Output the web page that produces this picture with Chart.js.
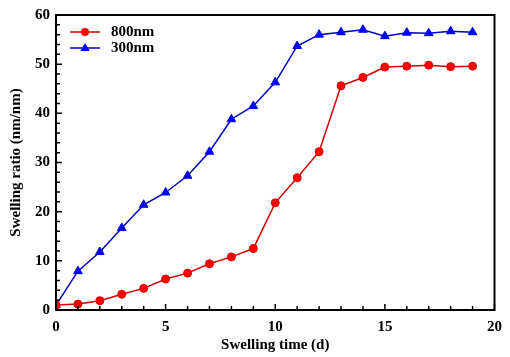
<!DOCTYPE html>
<html>
<head>
<meta charset="utf-8">
<script src="https://cdn.jsdelivr.net/npm/chart.js@4.4.1/dist/chart.umd.min.js"></script>
<style>
  html, body { margin: 0; padding: 0; background: #fff; }
  #wrap { width: 510px; height: 357px; }
</style>
</head>
<body>
<div id="wrap"><canvas id="swellChart" width="510" height="357"></canvas></div>
<script>
// swelling time (d)
var days = [0, 1, 2, 3, 4, 5, 6, 7, 8, 9, 10, 11, 12, 13, 14, 15, 16, 17, 18, 19];
// swelling ratio (nm/nm)
var ratio800 = [1.0, 1.2, 1.9, 3.2, 4.4, 6.3, 7.5, 9.4, 10.8, 12.5, 21.8, 26.9, 32.2, 45.6, 47.3, 49.4, 49.6, 49.8, 49.5, 49.6];
var ratio300 = [1.0, 7.9, 11.8, 16.7, 21.4, 23.9, 27.3, 32.2, 38.8, 41.5, 46.3, 53.7, 56.0, 56.5, 57.0, 55.7, 56.4, 56.3, 56.7, 56.5];
var seriesNames = ['800nm', '300nm'];

var FONT = '"Liberation Serif", "Times New Roman", serif';

function toPoints(xs, ys){
    var pts = [];
    for (var i = 0; i < xs.length; i++) pts.push({x: xs[i], y: ys[i]});
    return pts;
}

// frame + inward ticks + legend
var framePlugin = {
    id: 'frame',
    afterDraw: function(chart){
        var ctx = chart.ctx;
        var a = chart.chartArea;
        var xs = chart.scales.x, ys = chart.scales.y;
        ctx.save();
        ctx.strokeStyle = '#000';
        ctx.lineWidth = 2;
        ctx.strokeRect(a.left, a.top, a.right - a.left, a.bottom - a.top);

        ctx.lineWidth = 1.5;
        ctx.beginPath();
        for (var v = 0; v <= 20; v++) {
            var px = xs.getPixelForValue(v);
            var len = (v % 5 === 0) ? 6 : 4;
            ctx.moveTo(px, a.bottom);
            ctx.lineTo(px, a.bottom - len);
        }
        for (var w = 0; w <= 60; w += 2) {
            var py = ys.getPixelForValue(w);
            var len2 = (w % 10 === 0) ? 6 : 4;
            ctx.moveTo(a.left, py);
            ctx.lineTo(a.left + len2, py);
        }
        ctx.stroke();

        // legend
        var ds = chart.data.datasets;
        ctx.font = 'bold 15px ' + FONT;
        ctx.textBaseline = 'middle';
        for (var i = 0; i < ds.length; i++) {
            var ly = a.top + 17 + i * 16;
            var x0 = a.left + 14, x1 = a.left + 44;
            ctx.strokeStyle = ds[i].borderColor;
            ctx.lineWidth = 1.5;
            ctx.beginPath();
            ctx.moveTo(x0, ly);
            ctx.lineTo(x1, ly);
            ctx.stroke();
            ctx.fillStyle = ds[i].pointBackgroundColor;
            ctx.beginPath();
            if (ds[i].pointStyle === 'triangle') {
                var r = 5;
                var cx = (x0 + x1) / 2;
                ctx.moveTo(cx, ly - r);
                ctx.lineTo(cx + r * 0.95, ly + r * 0.6);
                ctx.lineTo(cx - r * 0.95, ly + r * 0.6);
                ctx.closePath();
            } else {
                ctx.arc((x0 + x1) / 2, ly, 4, 0, Math.PI * 2);
            }
            ctx.fill();
            ctx.fillStyle = '#000';
            ctx.textAlign = 'left';
            ctx.fillText(ds[i].label, x1 + 11, ly);
        }
        ctx.restore();
    }
};

var ctx = document.getElementById('swellChart').getContext('2d');
var myChart = new Chart(ctx, {
    type: 'line',
    data: {
        datasets: [{
            label: seriesNames[0],
            data: toPoints(days, ratio800),
            borderColor: '#d00000',
            backgroundColor: '#ff0000',
            pointBackgroundColor: '#ff0000',
            pointBorderColor: '#e00000',
            pointStyle: 'circle',
            pointRadius: 4,
            pointBorderWidth: 1,
            borderWidth: 1.5,
            tension: 0
        }, {
            label: seriesNames[1],
            data: toPoints(days, ratio300),
            borderColor: '#0000c8',
            backgroundColor: '#0000ff',
            pointBackgroundColor: '#0000ff',
            pointBorderColor: '#0000e0',
            pointStyle: 'triangle',
            pointRadius: 5,
            pointBorderWidth: 1,
            borderWidth: 1.5,
            tension: 0
        }]
    },
    options: {
        responsive: false,
        animation: false,
        layout: { padding: { top: 13, right: 14, left: 7, bottom: 3 } },
        plugins: {
            legend: { display: false },
            tooltip: { enabled: false }
        },
        scales: {
            x: {
                type: 'linear',
                min: 0,
                max: 20,
                grid: { display: false, drawTicks: false },
                border: { display: false },
                ticks: {
                    stepSize: 5,
                    padding: 8,
                    color: '#000',
                    font: { family: FONT, size: 15, weight: 'bold' }
                },
                title: {
                    display: true,
                    text: 'Swelling time (d)',
                    color: '#000',
                    padding: { top: 4, bottom: 0 },
                    font: { family: FONT, size: 15, weight: 'bold' }
                },
                afterFit: function(scale){ scale.height = 44; }
            },
            y: {
                min: 0,
                max: 60,
                grid: { display: false, drawTicks: false },
                border: { display: false },
                ticks: {
                    stepSize: 10,
                    padding: 6,
                    color: '#000',
                    font: { family: FONT, size: 15, weight: 'bold' }
                },
                title: {
                    display: true,
                    text: 'Swelling ratio (nm/nm)',
                    color: '#000',
                    padding: { top: 0, bottom: 4 },
                    font: { family: FONT, size: 15, weight: 'bold' }
                },
                afterFit: function(scale){ scale.width = 49; }
            }
        }
    },
    plugins: [framePlugin]
});
</script>
</body>
</html>
